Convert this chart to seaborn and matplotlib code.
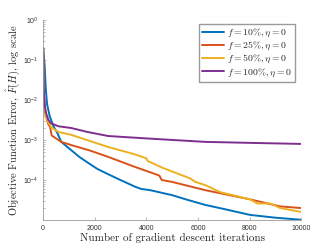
import pandas as pd
import matplotlib
matplotlib.use("Agg")
import matplotlib.pyplot as plt
import seaborn as sns

# series labels and colours (MATLAB default order)
labels = [r"$f = 10\%, \eta = 0$", r"$f = 25\%, \eta = 0$",
          r"$f = 50\%, \eta = 0$", r"$f = 100\%, \eta = 0$"]
colors = ["#0072BD", "#D95319", "#EDB120", "#7E2F8E"]

# values (iteration, error)
iters_10 = [0, 40, 60, 100, 150, 250, 400, 550, 700, 1085, 1400, 1740, 2100, 2520, 3000, 3570, 3800, 4070,
            4200, 5000, 5600, 6280, 7000, 8020, 9000, 10000]
err_10 = [0.2, 0.1, 0.065, 0.02, 0.008, 0.004, 0.0022, 0.0015, 0.0009, 0.00056, 0.00038, 0.00027, 0.00019,
          0.00014, 0.0001, 0.000068, 0.00006, 0.000057, 0.000055, 0.000042, 0.000032, 0.000024, 0.000019,
          0.0000135, 0.0000115, 0.0000102]

iters_25 = [0, 20, 50, 100, 200, 270, 330, 700, 1085, 1800, 2520, 3500, 4500, 4600, 5000, 6280, 8020, 9190, 10000]
err_25 = [0.2, 0.02, 0.008, 0.004, 0.0025, 0.0021, 0.0013, 0.0009, 0.00075, 0.00055, 0.00038, 0.00022,
          0.00013, 0.0001, 0.00009, 0.000056, 0.000033, 0.000022, 0.00002]

iters_50 = [0, 20, 50, 100, 200, 310, 580, 1085, 1800, 2520, 3500, 4000, 4050, 4650, 5700, 5900, 6280,
            6860, 8020, 8300, 8800, 9190, 10000]
err_50 = [0.2, 0.02, 0.008, 0.004, 0.0028, 0.0021, 0.0016, 0.00135, 0.00095, 0.00067, 0.00045, 0.00035,
          0.0003, 0.0002, 0.00011, 0.00009, 0.000075, 0.00005, 0.000033, 0.000026, 0.000026, 0.00002, 0.000016]

iters_100 = [0, 20, 50, 100, 200, 310, 600, 1085, 1700, 2520, 3500, 4500, 6280, 8000, 10000]
err_100 = [0.2, 0.02, 0.009, 0.005, 0.0032, 0.0026, 0.0022, 0.002, 0.0016, 0.00126, 0.00115, 0.00105,
           0.0009, 0.00085, 0.0008]

frames = []
for lab, xs, ys in zip(labels, [iters_10, iters_25, iters_50, iters_100],
                       [err_10, err_25, err_50, err_100]):
    frames.append(pd.DataFrame({"iteration": xs, "error": ys, "series": lab}))
df = pd.concat(frames, ignore_index=True)

sns.set_style("ticks")
plt.rcParams["mathtext.fontset"] = "cm"
plt.rcParams["font.family"] = ["Liberation Sans", "DejaVu Sans"]

fig = plt.figure(figsize=(3.32, 2.49), dpi=100)
ax = fig.add_axes([0.13, 0.116, 0.777, 0.804])

sns.lineplot(data=df, x="iteration", y="error", hue="series", hue_order=labels,
             palette=colors, estimator=None, sort=True, linewidth=1.4, ax=ax)

ax.set_yscale("log")
ax.set_xlim(0, 10000)
ax.set_ylim(1e-5, 1e0)
ax.set_xticks([0, 2000, 4000, 6000, 8000, 10000])
ax.set_yticks([1e0, 1e-1, 1e-2, 1e-3, 1e-4])

for side in ["top", "right"]:
    ax.spines[side].set_visible(False)
for side in ["left", "bottom"]:
    ax.spines[side].set_color("#9a9a9a")
    ax.spines[side].set_linewidth(0.6)
ax.tick_params(which="both", direction="in", colors="#9a9a9a", labelcolor="#333333",
               labelsize=5, width=0.5)
ax.tick_params(which="major", length=2.5)
ax.tick_params(which="minor", length=1.5)

ax.set_xlabel("Number of gradient descent iterations", family="cmr10", fontsize=8, labelpad=1)
ax.set_ylabel(r"Objective Function Error, $\hat{F}(H)$, log scale", family="cmr10",
              fontsize=7.5, labelpad=1)

ax.legend(loc="upper right", bbox_to_anchor=(0.975, 0.98), borderaxespad=0, fontsize=7,
          frameon=True, fancybox=False, edgecolor="#9a9a9a", framealpha=1, handlelength=2.2,
          handletextpad=0.3, borderpad=0.3, labelspacing=0.1)

fig.savefig("out.png", dpi=100)
